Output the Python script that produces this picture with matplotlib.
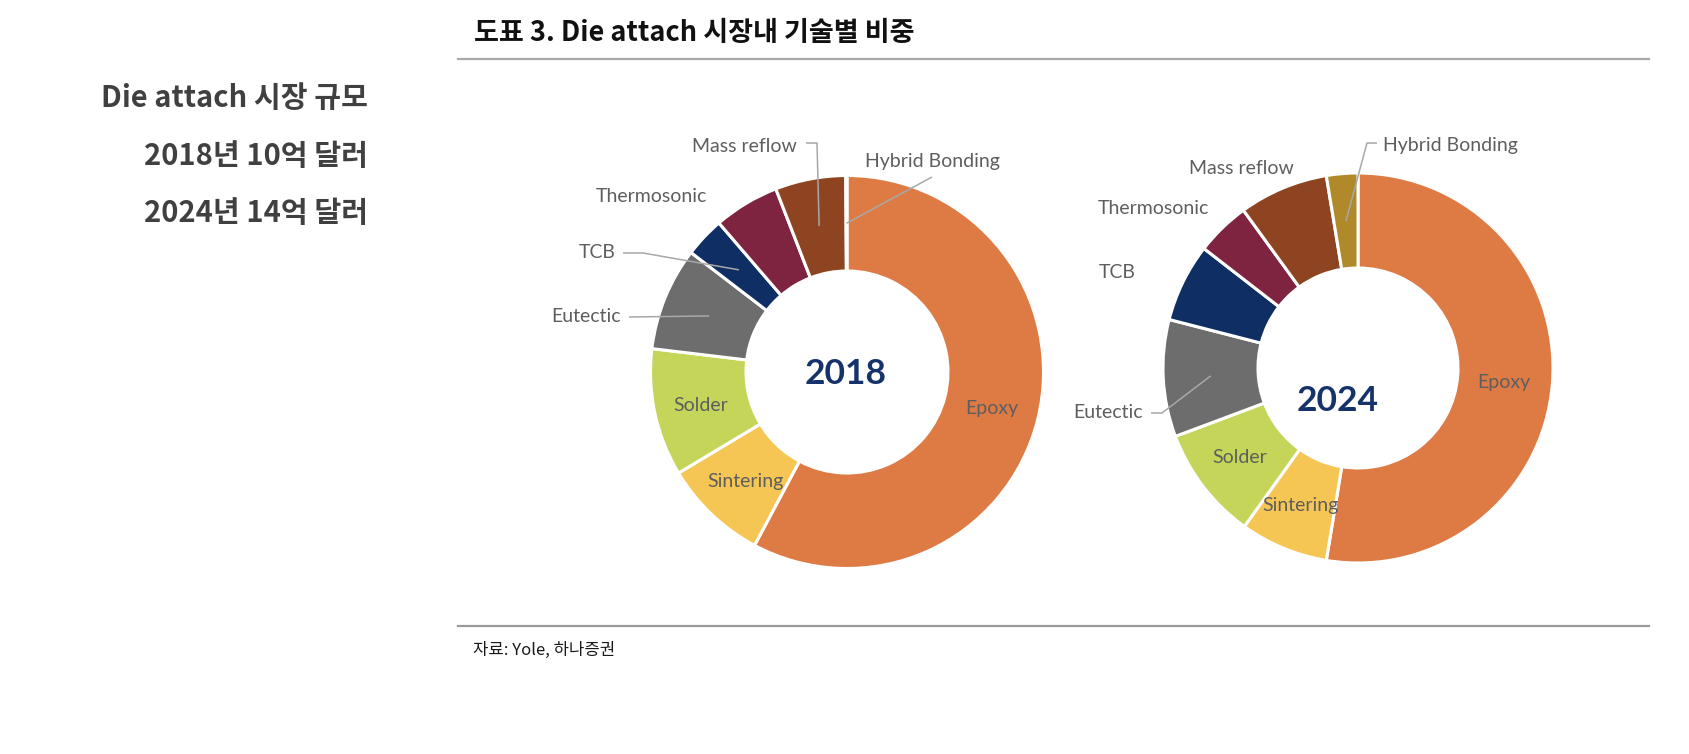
import numpy as np
import matplotlib.pyplot as plt

plt.rcParams['font.family'] = ['Noto Sans CJK KR', 'DejaVu Sans']

# 기술별 비중 (%), 그림에서 읽은 값
techs = ["Epoxy", "Sintering", "Solder", "Eutectic", "TCB",
         "Thermosonic", "Mass reflow", "Hybrid Bonding"]
share_2018 = [57.8, 8.6, 10.5, 8.5, 3.3, 5.4, 5.8, 0.1]
share_2024 = [52.6, 7.3, 9.4, 9.7, 6.5, 4.5, 7.4, 2.6]

colors = ["#DE7B45", "#F5C654", "#C5D55A", "#6D6D6D", "#0F2E63",
          "#7E2440", "#8E4420", "#B08A2A"]

title = "도표 3. Die attach 시장내 기술별 비중"
side_lines = ["Die attach 시장 규모", "2018년 10억 달러", "2024년 14억 달러"]
source = "자료: Yole, 하나증권"

W, H = 1690, 754
fig = plt.figure(figsize=(W / 100, H / 100), dpi=100)
ax = fig.add_axes([0, 0, 1, 1])
ax.set_xlim(0, W)
ax.set_ylim(0, H)
ax.set_aspect('equal')
ax.axis('off')


def Y(y):
    # pixel row (from top) -> data y
    return H - y


label_font = ['Lato', 'DejaVu Sans']
label_col = "#5E5E5E"
lead_col = "#A8A8A8"

# label layout per chart: name -> (x, y, ha, leader points from text side)
layout_2018 = {
    "Epoxy": (992, 409, 'center', None),
    "Sintering": (745, 482, 'center', None),
    "Solder": (701, 406, 'center', None),
    "Eutectic": (621, 317, 'right', [(629, 317)]),
    "TCB": (616, 253, 'right', [(623, 253), (643, 253)]),
    "Thermosonic": (651, 197, 'center', None),
    "Mass reflow": (797, 147, 'right', [(806, 143), (817, 143)]),
    "Hybrid Bonding": (932, 162, 'center', [(932, 177)]),
}
layout_2024 = {
    "Epoxy": (1504, 383, 'center', None),
    "Sintering": (1300, 505, 'center', None),
    "Solder": (1240, 458, 'center', None),
    "Eutectic": (1143, 413, 'right', [(1151, 413), (1162, 413)]),
    "TCB": (1117, 273, 'center', None),
    "Thermosonic": (1153, 209, 'center', None),
    "Mass reflow": (1241, 168, 'center', None),
    "Hybrid Bonding": (1383, 146, 'left', [(1377, 143), (1367, 143)]),
}


def donut(values, cx, cy, r_out, r_in, year, year_xy, layout):
    wedges, _ = ax.pie(values, colors=colors, startangle=90, counterclock=False,
                       center=(cx, Y(cy)), radius=r_out, frame=True,
                       wedgeprops=dict(width=r_out - r_in, edgecolor='white',
                                       linewidth=2.2))
    r_mid = (r_out + r_in) / 2
    for w, name in zip(wedges, techs):
        x, y, ha, lead = layout[name]
        ax.text(x, Y(y), name, ha=ha, va='center', fontsize=14,
                color=label_col, family=label_font)
        if lead:
            ang = np.deg2rad((w.theta1 + w.theta2) / 2)
            end = (cx + r_mid * np.cos(ang), Y(cy) + r_mid * np.sin(ang))
            xs = [p[0] for p in lead] + [end[0]]
            ys = [Y(p[1]) for p in lead] + [end[1]]
            ax.plot(xs, ys, color=lead_col, lw=1.1, solid_capstyle='butt')
    ax.text(year_xy[0], Y(year_xy[1]), year, ha='center', va='center',
            fontsize=25.5, fontweight='bold', color="#15336A", family=label_font)


donut(share_2018, 847, 372, 196.5, 101, "2018", (846, 374), layout_2018)
donut(share_2024, 1358, 368, 195, 100, "2024", (1338, 401), layout_2024)

ax.set_xlim(0, W)
ax.set_ylim(0, H)
ax.axis('off')

# header, rules, side notes, source
ax.text(474, Y(33), title, ha='left', va='center', fontsize=19.5,
        fontweight='bold', color="#111111")
ax.plot([458, 1649], [Y(59), Y(59)], color="#AAAAAA", lw=1.6)
ax.plot([458, 1649], [Y(626), Y(626)], color="#9A9A9A", lw=1.6)
for txt, yy in zip(side_lines, [98, 156, 213]):
    ax.text(368, Y(yy), txt, ha='right', va='center', fontsize=21,
            fontweight='bold', color="#404040")
ax.text(473, Y(650), source, ha='left', va='center', fontsize=12,
        color="#1A1A1A")

fig.savefig("out.png", dpi=100, facecolor='white')
